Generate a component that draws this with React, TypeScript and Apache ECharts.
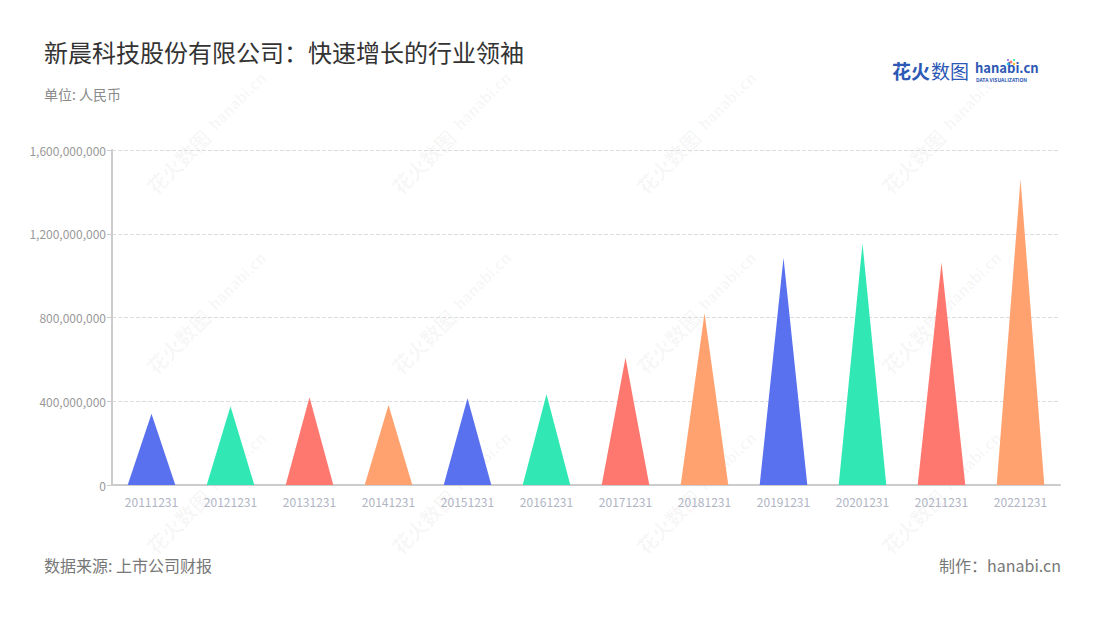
import React, { useEffect, useRef } from "react";
import * as echarts from "echarts";

const categories = [
  "20111231", "20121231", "20131231", "20141231", "20151231", "20161231",
  "20171231", "20181231", "20191231", "20201231", "20211231", "20221231",
];
const revenue = [
  340000000, 377000000, 419000000, 382000000, 414000000, 433000000,
  608000000, 820000000, 1086000000, 1154000000, 1062000000, 1460000000,
];
const palette = ["#5971EE", "#31E8B4", "#FF7870", "#FFA26F"];
const yTicks = { min: 0, max: 1600000000, interval: 400000000 };

const titleText = "新晨科技股份有限公司：快速增长的行业领袖";
const unitText = "单位: 人民币";
const sourceText = "数据来源: 上市公司财报";
const makerText = "制作：hanabi.cn";

const FONT = "'Noto Sans CJK SC', 'Noto Sans', sans-serif";

function watermarks() {
  const items: any[] = [];
  const xs = [150, 395, 640, 885];
  const ys = [150, 330, 510];
  ys.forEach((y) => {
    xs.forEach((x) => {
      items.push({
        type: "group",
        x: x,
        y: y + 40,
        rotation: Math.PI / 4,
        silent: true,
        z: 0,
        children: [
          {
            type: "text",
            x: 0,
            y: 0,
            style: {
              text: "花火数图",
              font: "bold 20px " + FONT,
              fill: "rgba(0,0,0,0.045)",
              textVerticalAlign: "middle",
            },
          },
          {
            type: "text",
            x: 88,
            y: -2,
            style: {
              text: "hanabi.cn",
              font: "bold 15px " + FONT,
              fill: "rgba(0,0,0,0.045)",
              textVerticalAlign: "middle",
            },
          },
        ],
      });
    });
  });
  return items;
}

export default function App() {
  const ref = useRef<HTMLDivElement>(null);
  useEffect(() => {
    document.body.style.margin = "0";
    const chart = echarts.init(ref.current!, undefined, { renderer: "svg" });
    chart.setOption({
      animation: false,
      backgroundColor: "#ffffff",
      textStyle: { fontFamily: FONT },
      grid: { left: 112, right: 40, top: 150, bottom: 135 },
      xAxis: {
        type: "category",
        data: categories,
        axisLine: { lineStyle: { color: "#cccccc", width: 2 } },
        axisTick: { alignWithLabel: true, lineStyle: { color: "#cccccc" } },
        axisLabel: { color: "#b0b4c4", fontSize: 12, margin: 10 },
      },
      yAxis: {
        type: "value",
        min: yTicks.min,
        max: yTicks.max,
        interval: yTicks.interval,
        axisLine: { show: true, lineStyle: { color: "#cccccc", width: 2 } },
        axisTick: { show: true, length: 5, lineStyle: { color: "#cccccc" } },
        axisLabel: {
          color: "#999999",
          fontSize: 12,
          margin: 6,
          formatter: (v: number) => v.toLocaleString("en-US"),
        },
        splitLine: { lineStyle: { color: "#dddddd", type: "dashed" } },
      },
      series: [
        {
          type: "pictorialBar",
          symbol: "triangle",
          symbolSize: ["60%", "100%"],
          symbolPosition: "end",
          barCategoryGap: "0%",
          z: 5,
          data: revenue.map((v, i) => ({
            value: v,
            itemStyle: { color: palette[i % palette.length] },
          })),
        },
      ],
      graphic: [
        ...watermarks(),
        {
          type: "text",
          left: 44,
          top: 39,
          style: { text: titleText, font: "24px " + FONT, fill: "#333333" },
        },
        {
          type: "text",
          left: 44,
          top: 87,
          style: { text: unitText, font: "14px " + FONT, fill: "#8a8a8a" },
        },
        {
          type: "text",
          left: 44,
          top: 557,
          style: { text: sourceText, font: "16px " + FONT, fill: "#777777" },
        },
        {
          type: "text",
          right: 39,
          top: 557,
          style: { text: makerText, font: "16px " + FONT, fill: "#777777" },
        },
        {
          type: "text",
          left: 892,
          top: 61,
          style: { text: "花火", font: "bold 19px " + FONT, fill: "#2d58b5" },
        },
        {
          type: "text",
          left: 931,
          top: 61,
          style: { text: "数图", font: "19px " + FONT, fill: "#2d58b5" },
        },
        {
          type: "text",
          left: 975,
          top: 61,
          style: { text: "hanabi.cn", font: "bold 13px " + FONT, fill: "#2d58b5" },
        },
        {
          type: "text",
          left: 976,
          top: 77,
          style: { text: "DATA VISUALIZATION", font: "bold 5px " + FONT, fill: "#2d58b5" },
        },
        { type: "circle", shape: { cx: 1011, cy: 62, r: 1.5 }, style: { fill: "#ff7870" } },
        { type: "circle", shape: { cx: 1008, cy: 64, r: 1.3 }, style: { fill: "#31c0e8" } },
        { type: "circle", shape: { cx: 1014, cy: 64, r: 1.3 }, style: { fill: "#ffc040" } },
        { type: "circle", shape: { cx: 1008, cy: 60, r: 1.1 }, style: { fill: "#a070f0" } },
        { type: "circle", shape: { cx: 1014, cy: 60, r: 1.1 }, style: { fill: "#31e8b4" } },
      ],
    });
    return () => chart.dispose();
  }, []);
  return (
    <div
      ref={ref}
      style={{ position: "absolute", left: 0, top: 0, width: 1100, height: 620 }}
    />
  );
}
